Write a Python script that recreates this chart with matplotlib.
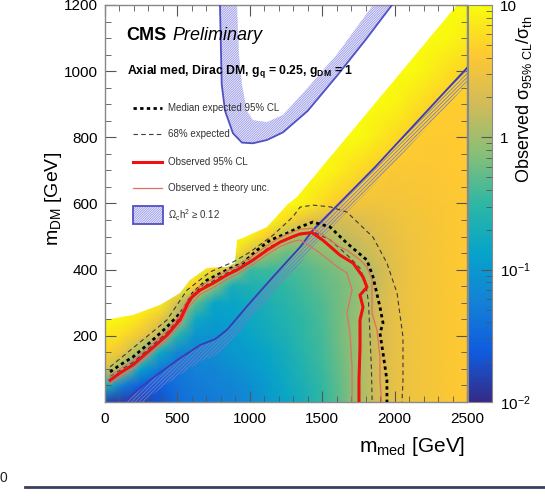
import numpy as np
import matplotlib
matplotlib.use("Agg")
import matplotlib.pyplot as plt
from matplotlib.colors import LinearSegmentedColormap, LogNorm
from matplotlib.patches import Polygon, Rectangle
from matplotlib.lines import Line2D
from matplotlib.ticker import MultipleLocator

plt.rcParams['font.family'] = ['Liberation Sans', 'DejaVu Sans']
plt.rcParams['mathtext.fontset'] = 'custom'
plt.rcParams['mathtext.rm'] = 'Liberation Sans'
plt.rcParams['mathtext.it'] = 'Liberation Sans:italic'
plt.rcParams['mathtext.bf'] = 'Liberation Sans:bold'
plt.rcParams['hatch.linewidth'] = 0.6

# ---------------- data ----------------
grid_mmed = [0, 125, 250, 375, 500, 625, 750, 875, 1000, 1125, 1250, 1375, 1500,
             1625, 1750, 1875, 2000, 2125, 2250, 2375, 2500]
grid_mdm = [0, 50, 100, 150, 200, 250, 300, 350, 400, 450, 500, 550, 600,
            700, 800, 900, 1000, 1100, 1200]
# log10(observed sigma_95 / sigma_th), rows = m_DM, cols = m_med
log_ratio = [
    [-1.8, -1.85, -1.8, -1.7, -1.45, -1.35, -1.3, -1.25, -1.15, -1.0, -0.85, -0.7, -0.5, -0.3, 0.0, 0.28, 0.42, 0.5, 0.55, 0.6, 0.62],
    [-0.6, -1.3, -1.6, -1.6, -1.4, -1.3, -1.25, -1.2, -1.1, -0.95, -0.8, -0.65, -0.48, -0.28, 0.0, 0.28, 0.42, 0.5, 0.55, 0.6, 0.62],
    [0.35, -0.1, -0.9, -1.3, -1.35, -1.25, -1.2, -1.1, -1.0, -0.9, -0.75, -0.6, -0.45, -0.25, 0.0, 0.27, 0.42, 0.5, 0.55, 0.6, 0.62],
    [0.7, 0.45, -0.05, -0.8, -1.2, -1.2, -1.1, -1.0, -0.95, -0.85, -0.7, -0.55, -0.42, -0.22, 0.0, 0.26, 0.42, 0.5, 0.55, 0.6, 0.62],
    [0.85, 0.75, 0.5, 0.15, -0.6, -1.05, -1.05, -0.95, -0.85, -0.75, -0.65, -0.5, -0.4, -0.2, 0.0, 0.25, 0.42, 0.5, 0.55, 0.6, 0.62],
    [1.0, 0.95, 0.8, 0.5, 0.05, -0.8, -0.95, -0.9, -0.8, -0.7, -0.6, -0.5, -0.38, -0.2, -0.02, 0.25, 0.42, 0.5, 0.55, 0.6, 0.62],
    [1.0, 1.0, 1.0, 0.9, 0.3, -0.3, -0.85, -0.85, -0.75, -0.65, -0.55, -0.45, -0.35, -0.2, -0.05, 0.25, 0.42, 0.5, 0.55, 0.6, 0.62],
    [1.0, 1.0, 1.0, 1.0, 1.0, 0.6, -0.1, -0.7, -0.65, -0.55, -0.5, -0.4, -0.3, -0.2, -0.05, 0.2, 0.42, 0.5, 0.55, 0.6, 0.62],
    [1.0, 1.0, 1.0, 1.0, 1.0, 1.0, 0.7, 0.15, -0.45, -0.45, -0.4, -0.35, -0.25, -0.15, -0.05, 0.2, 0.4, 0.5, 0.55, 0.6, 0.62],
    [1.0, 1.0, 1.0, 1.0, 1.0, 1.0, 1.0, 0.9, 0.4, -0.05, -0.25, -0.2, -0.12, -0.02, 0.15, 0.3, 0.42, 0.5, 0.55, 0.6, 0.62],
    [1.0, 1.0, 1.0, 1.0, 1.0, 1.0, 1.0, 1.0, 0.9, 0.6, 0.12, -0.02, 0.05, 0.15, 0.25, 0.35, 0.45, 0.5, 0.55, 0.6, 0.62],
    [1.0, 1.0, 1.0, 1.0, 1.0, 1.0, 1.0, 1.0, 1.0, 1.0, 0.75, 0.45, 0.32, 0.3, 0.35, 0.42, 0.48, 0.52, 0.56, 0.6, 0.62],
    [1.0, 1.0, 1.0, 1.0, 1.0, 1.0, 1.0, 1.0, 1.0, 1.0, 1.0, 0.92, 0.75, 0.6, 0.52, 0.5, 0.52, 0.55, 0.58, 0.6, 0.62],
    [1.0, 1.0, 1.0, 1.0, 1.0, 1.0, 1.0, 1.0, 1.0, 1.0, 1.0, 1.0, 1.0, 0.88, 0.75, 0.65, 0.6, 0.6, 0.6, 0.62, 0.63],
    [1.0, 1.0, 1.0, 1.0, 1.0, 1.0, 1.0, 1.0, 1.0, 1.0, 1.0, 1.0, 1.0, 1.0, 1.0, 0.88, 0.75, 0.66, 0.63, 0.63, 0.64],
    [1.0, 1.0, 1.0, 1.0, 1.0, 1.0, 1.0, 1.0, 1.0, 1.0, 1.0, 1.0, 1.0, 1.0, 1.0, 1.0, 0.95, 0.82, 0.7, 0.65, 0.65],
    [1.0, 1.0, 1.0, 1.0, 1.0, 1.0, 1.0, 1.0, 1.0, 1.0, 1.0, 1.0, 1.0, 1.0, 1.0, 1.0, 1.0, 1.0, 0.9, 0.78, 0.7],
    [1.0, 1.0, 1.0, 1.0, 1.0, 1.0, 1.0, 1.0, 1.0, 1.0, 1.0, 1.0, 1.0, 1.0, 1.0, 1.0, 1.0, 1.0, 1.0, 0.97, 0.88],
    [1.0, 1.0, 1.0, 1.0, 1.0, 1.0, 1.0, 1.0, 1.0, 1.0, 1.0, 1.0, 1.0, 1.0, 1.0, 1.0, 1.0, 1.0, 1.0, 1.0, 1.0],
]

# upper edge of the scanned region
scan_edge_mmed = [0, 193, 380, 518, 587, 704, 842, 900, 911, 953, 1119, 1257, 1326, 2431, 2500]
scan_edge_mdm = [248, 263, 293, 329, 368, 405, 408, 420, 489, 495, 529, 595, 620, 1200, 1200]

obs_mmed = [35, 104, 193, 311, 428, 518, 573, 601, 656, 746, 842, 911, 1022, 1119, 1208, 1298, 1347, 1430,
            1505, 1623, 1713, 1782, 1809, 1761, 1782, 1761, 1761, 1754, 1754]
obs_mdm = [66, 88, 112, 157, 202, 248, 299, 317, 338, 359, 384, 399, 429, 459, 483, 500, 508, 512,
           489, 444, 420, 378, 347, 323, 287, 248, 166, 66, 0]

obs_up_mmed = [35, 104, 193, 311, 428, 518, 573, 656, 746, 842, 911, 1022, 1119, 1208, 1298, 1347, 1430,
               1505, 1623, 1671, 1760, 1809, 1844, 1844, 1878, 1899, 1899, 1910]
obs_up_mdm = [80, 100, 125, 170, 215, 262, 312, 350, 372, 396, 410, 442, 472, 497, 514, 522, 525,
              505, 468, 459, 430, 408, 369, 269, 218, 136, 66, 0]

obs_dn_mmed = [35, 104, 193, 311, 428, 518, 573, 656, 746, 842, 911, 1022, 1119, 1208, 1298, 1347, 1420,
               1485, 1600, 1671, 1706, 1671, 1692, 1706, 1706]
obs_dn_mdm = [55, 76, 99, 144, 189, 234, 285, 325, 346, 371, 386, 416, 446, 470, 485, 490, 470,
              450, 410, 390, 338, 269, 208, 106, 0]

exp_mmed = [35, 104, 193, 311, 428, 539, 608, 704, 842, 953, 1050, 1140, 1257, 1347, 1436, 1554, 1671,
            1809, 1851, 1899, 1920, 1899, 1920, 1947, 1947]
exp_mdm = [91, 112, 136, 180, 227, 278, 329, 368, 399, 420, 459, 489, 510, 529, 544, 529, 480,
           429, 378, 287, 239, 208, 148, 66, 0]

exp_up_mmed = [35, 193, 428, 566, 725, 884, 1001, 1160, 1298, 1347, 1436, 1554, 1671, 1851, 1947, 2017,
               2058, 2058, 2051]
exp_up_mdm = [106, 163, 248, 338, 393, 423, 453, 504, 560, 589, 595, 590, 574, 498, 420, 329,
              196, 66, 0]

exp_dn_mmed = [35, 193, 428, 530, 600, 704, 842, 953, 1050, 1140, 1257, 1347, 1436, 1554, 1671, 1760,
               1800, 1820, 1830, 1840, 1845]
exp_dn_mdm = [78, 120, 210, 262, 315, 355, 390, 410, 440, 470, 492, 505, 515, 490, 445, 405,
              360, 300, 200, 100, 0]

# relic density: U-shaped band
relic_outer_mmed = [794, 806, 829, 884, 946, 1022, 1119, 1229, 1400, 1600, 1800, 1982]
relic_outer_mdm = [1200, 960, 880, 812, 784, 782, 792, 815, 880, 985, 1095, 1200]
relic_inner_mmed = [912, 925, 946, 980, 1022, 1119, 1229, 1400, 1600, 1851]
relic_inner_mdm = [1200, 1050, 960, 880, 852, 846, 868, 950, 1050, 1200]
# relic density: diagonal line and band
relic_diag_mmed = [140, 310, 500, 656, 760, 842, 1000, 1160, 1347, 1436, 1865, 2500]
relic_diag_mdm = [5, 66, 127, 172, 190, 218, 299, 378, 468, 520, 710, 1010]
relic_diag_width = 50

cbar_ticks = [0.01, 0.1, 1, 10]
cbar_ticklabels = ['10$^{-2}$', '10$^{-1}$', '1', '10']

# ---------------- style ----------------
stops = [0.0, 0.125, 0.25, 0.375, 0.5, 0.625, 0.75, 0.875, 1.0]
red = [0.2082, 0.0592, 0.0780, 0.0232, 0.1802, 0.5301, 0.8186, 0.9956, 0.9764]
green = [0.1664, 0.3599, 0.5041, 0.6419, 0.7178, 0.7492, 0.7328, 0.7862, 0.9832]
blue = [0.5293, 0.8684, 0.8385, 0.7914, 0.6425, 0.4662, 0.3499, 0.1968, 0.0539]
cmap = LinearSegmentedColormap.from_list('kBird', list(zip(stops, zip(red, green, blue))))

W, H = 545, 503
fig = plt.figure(figsize=(W / 100, H / 100), dpi=100)
ax = fig.add_axes([105 / W, 1 - 402 / H, 362 / W, 397 / H])
cax = fig.add_axes([468 / W, 1 - 402 / H, 24 / W, 397 / H])

X, Y = np.meshgrid(grid_mmed, grid_mdm)
Z = 10 ** np.array(log_ratio)
norm = LogNorm(vmin=0.01, vmax=10)
mesh = ax.pcolormesh(X, Y, Z, shading='gouraud', cmap=cmap, norm=norm, zorder=1)
clip_pts = list(zip(scan_edge_mmed, scan_edge_mdm)) + [(2500, 0), (0, 0)]
clip_poly = Polygon(clip_pts, closed=True, transform=ax.transData, facecolor='none', edgecolor='none')
ax.add_patch(clip_poly)
mesh.set_clip_path(clip_poly)

# relic U band
u_pts = list(zip(relic_outer_mmed, relic_outer_mdm)) + list(zip(relic_inner_mmed[::-1], relic_inner_mdm[::-1]))
ax.add_patch(Polygon(u_pts, closed=True, facecolor='#f0f0fd', edgecolor='#9a9ae8', hatch='/' * 14,
                     linewidth=0, zorder=2))
ax.plot(relic_outer_mmed, relic_outer_mdm, color='#5050c4', lw=1.3, zorder=3)

# relic diagonal band
dx = np.array(relic_diag_mmed)
dy = np.array(relic_diag_mdm)
d_pts = list(zip(dx, dy)) + list(zip(dx[::-1], dy[::-1] - relic_diag_width))
ax.add_patch(Polygon(d_pts, closed=True, facecolor='none', edgecolor='#7a7acc', hatch='/' * 9,
                     linewidth=0, zorder=2))
ax.plot(dx, dy, color='#3a3ab8', lw=1.3, zorder=3)

# limit contours
ax.plot(exp_up_mmed, exp_up_mdm, color='#3a3a3a', lw=0.8, ls=(0, (4, 3)), zorder=4)
ax.plot(exp_dn_mmed, exp_dn_mdm, color='#3a3a3a', lw=0.8, ls=(0, (4, 3)), zorder=4)
ax.plot(exp_mmed, exp_mdm, color='black', lw=2.0, ls=(0, (1.2, 1.2)), zorder=5)
ax.plot(obs_up_mmed, obs_up_mdm, color='#e07060', lw=0.9, zorder=5)
ax.plot(obs_dn_mmed, obs_dn_mdm, color='#e07060', lw=0.9, zorder=5)
ax.plot(obs_mmed, obs_mdm, color='#f01010', lw=2.2, zorder=6)

ax.set_xlim(0, 2500)
ax.set_ylim(0, 1200)
ax.xaxis.set_major_locator(MultipleLocator(500))
ax.xaxis.set_minor_locator(MultipleLocator(100))
ax.yaxis.set_major_locator(MultipleLocator(200))
ax.yaxis.set_minor_locator(MultipleLocator(50))
ax.set_yticks([200, 400, 600, 800, 1000, 1200])
ax.tick_params(which='both', direction='in', top=True, right=True, color='#555555', labelsize=11)
ax.tick_params(axis='x', pad=7)
ax.tick_params(axis='y', pad=5)
ax.tick_params(which='major', length=8)
ax.tick_params(which='minor', length=4)
for s in ax.spines.values():
    s.set_color('#888888')
    s.set_linewidth(1.0)

# axis titles (ROOT-style, aligned to the axis end)
fig.text(465 / W, 1 - 447 / H, 'm$_{\\mathrm{med}}$ [GeV]', fontsize=15, ha='right', va='center')
fig.text(54 / W, 1 - 152 / H, 'm$_{\\mathrm{DM}}$ [GeV]', fontsize=14, rotation=90, ha='center', va='top')

# texts
ax.text(0.06, 0.923, 'CMS', transform=ax.transAxes, fontsize=13, fontweight='bold', va='center', zorder=7)
ax.text(0.186, 0.923, 'Preliminary', transform=ax.transAxes, fontsize=13, fontstyle='italic', va='center', zorder=7)
ax.text(0.06, 0.832, 'Axial med, Dirac DM, g$_{\\mathbf{q}}$ = 0.25, g$_{\\mathbf{DM}}$ = 1',
        transform=ax.transAxes, fontsize=8.8, fontweight='bold', va='center', zorder=7)

lx0, lx1, tx = 0.077, 0.157, 0.174
leg = [
    (0.741, dict(color='black', lw=2.0, ls=(0, (1.2, 1.2))), 'Median expected 95% CL'),
    (0.675, dict(color='#3a3a3a', lw=0.8, ls=(0, (4, 3))), '68% expected'),
    (0.605, dict(color='#f01010', lw=2.2), 'Observed 95% CL'),
    (0.539, dict(color='#e07060', lw=0.9), 'Observed \u00b1 theory unc.'),
]
for yy, kw, lab in leg:
    ax.add_line(Line2D([lx0, lx1], [yy, yy], transform=ax.transAxes, zorder=7, **kw))
    ax.text(tx, yy, lab, transform=ax.transAxes, fontsize=7, va='center', color='#333333', zorder=7)
ax.add_patch(Rectangle((0.077, 0.448), 0.083, 0.046, transform=ax.transAxes, facecolor='#f0f0fd',
                       edgecolor='#9a9ae8', hatch='/' * 14, linewidth=0, zorder=7))
ax.add_patch(Rectangle((0.077, 0.448), 0.083, 0.046, transform=ax.transAxes, facecolor='none',
                       edgecolor='#5050c4', linewidth=1.3, zorder=8))
ax.text(tx, 0.471, '\u03a9$_{\\mathrm{c}}$h$^{2}$ \u2265 0.12', transform=ax.transAxes, fontsize=7,
        va='center', color='#333333', zorder=7)

# colorbar
cb = fig.colorbar(mesh, cax=cax)
cb.outline.set_edgecolor('#888888')
cb.set_ticks(cbar_ticks)
cb.set_ticklabels(cbar_ticklabels)
cax.tick_params(which='both', direction='in', right=True, left=False, labelsize=11, color='#555555', pad=6)
cax.tick_params(which='major', length=8)
cax.tick_params(which='minor', length=4)
fig.text(524 / W, 1 - 15 / H, 'Observed \u03c3$_{\\mathrm{95\\%\\ CL}}$/\u03c3$_{\\mathrm{th}}$',
         fontsize=13, rotation=90, ha='center', va='top')

# slide remnants
fig.text(3 / W, 1 - 478 / H, '0', fontsize=10, ha='center', va='center', color='#222222')
fig.add_artist(Line2D([25 / W, 1.0], [1 - 487 / H, 1 - 487 / H], transform=fig.transFigure,
                      color='#3b3f5f', lw=2))

fig.savefig('out.png', dpi=100)
